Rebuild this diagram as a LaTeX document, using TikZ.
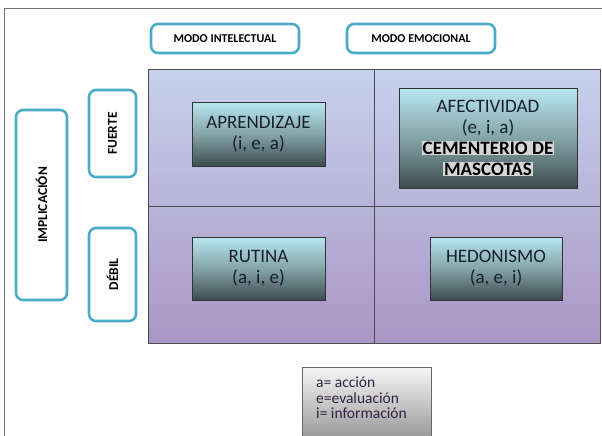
\documentclass[tikz,border=0pt]{standalone}
\usepackage{fontspec}
\setmainfont{Carlito}
\definecolor{aqua}{RGB}{75,172,198}
\definecolor{gridtop}{RGB}{198,209,235}
\definecolor{gridbottom}{RGB}{170,150,198}
\definecolor{innertop}{RGB}{184,230,240}
\definecolor{innermid}{RGB}{132,164,168}
\definecolor{innerbottom}{RGB}{60,76,80}
\definecolor{innertext}{RGB}{24,32,46}
\definecolor{hl}{RGB}{214,214,214}
\definecolor{legtop}{RGB}{246,246,246}
\definecolor{legbottom}{RGB}{140,140,140}
\definecolor{legtext}{RGB}{48,34,68}
\begin{document}
\begin{tikzpicture}[x=1pt,y=-1pt,
  hdr/.style={draw=aqua, line width=2.6pt, rounded corners=7pt, fill=white, inner sep=0pt,
    font=\bfseries\fontsize{12}{14}\selectfont, text=black},
  side/.style={hdr},
  vlabel/.style={rotate=90, font=\bfseries\fontsize{13.5}{15}\selectfont, text=black},
  cell/.style={draw=black!80, line width=0.9pt, top color=innertop, bottom color=innerbottom,
    middle color=innermid, align=center, inner sep=0pt,
    font=\fontsize{19}{21}\selectfont, text=innertext}
]
\useasboundingbox (0,0) rectangle (602,436);
% outer frame (partly outside the picture)
\begin{scope}
  \clip (0,0) rectangle (602,436);
  \draw[black!55, line width=1pt] (4,450) -- (4,9) -- (620,9);
\end{scope}

% column headers
\node[hdr, minimum width=148, minimum height=29] (intel) at (225,38.5) {MODO INTELECTUAL};
\node[hdr, minimum width=148, minimum height=29] (emoc) at (421,38.5) {MODO EMOCIONAL};

% row headers
\node[side, minimum width=51, minimum height=190] (impl) at (41.5,205) {};
\node[vlabel] (implt) at (impl.center) {IMPLICACIÓN};
\node[side, minimum width=47, minimum height=87] (fuerte) at (112.5,133.5) {};
\node[vlabel] (fuertet) at (fuerte.center) {FUERTE};
\node[side, minimum width=47, minimum height=93] (debil) at (112.5,274.5) {};
\node[vlabel] (debilt) at (debil.center) {DÉBIL};

% matrix
\node[draw=black!70, line width=1pt, top color=gridtop, bottom color=gridbottom,
  minimum width=452, minimum height=274, inner sep=0pt, anchor=north west] (grid) at (148,69) {};
\draw[black!70, line width=1pt] (grid.north) -- (grid.south);
\draw[black!70, line width=1pt] (grid.west) -- (grid.east);

% cells
\node[cell, minimum width=133, minimum height=64] (aprend) at (258.5,134) {APRENDIZAJE\\(i, e, a)};
\node[cell, minimum width=178, minimum height=100] (afect) at (488,138)
  {AFECTIVIDAD\\(e, i, a)\\{\setlength{\fboxsep}{1pt}\colorbox{hl}{\color{black}\bfseries CEMENTERIO DE}}\\{\setlength{\fboxsep}{1pt}\colorbox{hl}{\color{black}\bfseries MASCOTAS}}};
\node[cell, minimum width=133, minimum height=63] (rutina) at (258.5,268.5) {RUTINA\\(a, i, e)};
\node[cell, minimum width=132, minimum height=63] (hedon) at (496,268.5) {HEDONISMO\\(a, e, i)};

% legend
\node[draw=black!60, line width=1pt, top color=legtop, bottom color=legbottom,
  minimum width=129, minimum height=80, inner sep=0pt, anchor=north west] (legend) at (302,367) {};
\node[anchor=north west, align=left, inner sep=0pt, text=legtext,
  font=\fontsize{15.5}{15.5}\selectfont] (legtxt) at (316,377) {a= acción\\e=evaluación\\i= información};
\end{tikzpicture}
\end{document}
